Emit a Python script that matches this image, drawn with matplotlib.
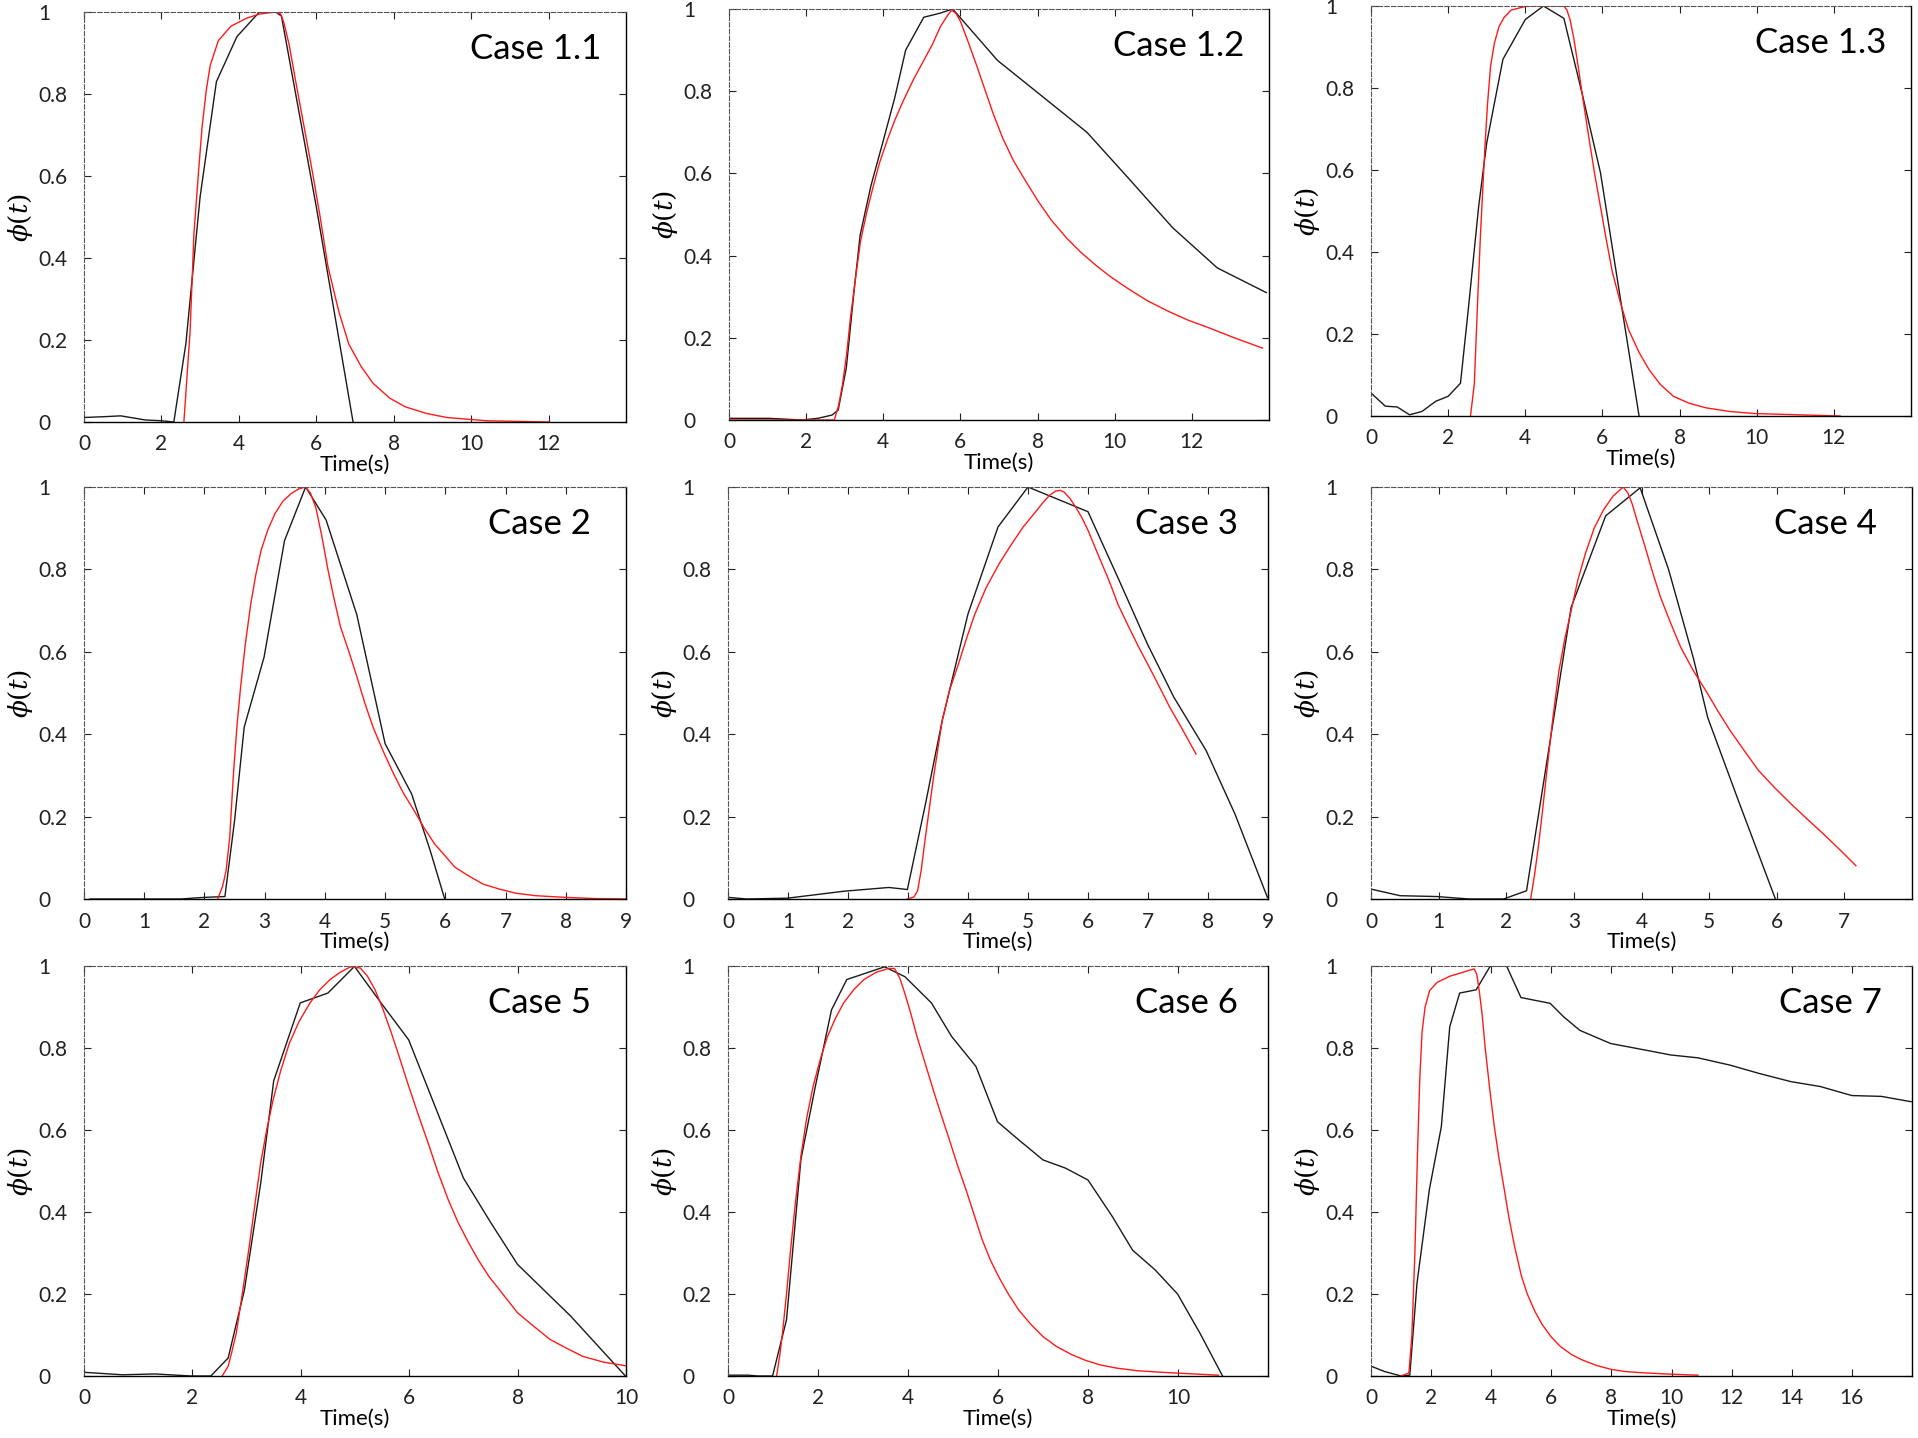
import matplotlib
matplotlib.use('Agg')
import matplotlib.pyplot as plt

plt.rcParams['font.family'] = ['Lato', 'DejaVu Sans']
plt.rcParams['mathtext.fontset'] = 'dejavuserif'

case_names = ['Case 1.1', 'Case 1.2', 'Case 1.3', 'Case 2', 'Case 3',
              'Case 4', 'Case 5', 'Case 6', 'Case 7']

c11_t_obs = [0, 0.53, 0.95, 1.58, 2.0, 2.32, 2.63, 3.0, 3.42, 3.95, 4.53, 4.95, 5.1, 6.0, 6.95]
c11_y_obs = [0.011, 0.013, 0.015, 0.005, 0.003, 0.0, 0.19, 0.55, 0.83, 0.94, 1.0, 1.0, 0.99, 0.525, 0.0]
c11_t_fit = [2.58, 2.74, 2.84, 2.95, 3.05, 3.16, 3.26, 3.47, 3.79, 4.2, 4.53, 4.95, 5.08, 5.16, 5.3, 5.47,
             5.9, 6.1, 6.3, 6.58, 6.84, 7.16, 7.47, 7.9, 8.3, 8.84, 9.37, 10.4, 12.0]
c11_y_fit = [0.0, 0.22, 0.46, 0.6, 0.72, 0.81, 0.87, 0.93, 0.965, 0.985, 0.995, 1.0, 0.995, 0.975, 0.92, 0.83,
             0.61, 0.5, 0.38, 0.27, 0.19, 0.135, 0.094, 0.058, 0.037, 0.021, 0.011, 0.003, 0.0]

c12_t_obs = [0, 1.04, 1.9, 2.3, 2.67, 2.83, 3.04, 3.26, 3.4, 3.68, 4.0, 4.3, 4.58, 5.05, 5.48, 5.8,
             6.96, 8.22, 9.28, 10.34, 11.5, 12.66, 13.93]
c12_y_obs = [0.004, 0.004, 0.0, 0.004, 0.012, 0.024, 0.126, 0.33, 0.45, 0.57, 0.68, 0.785, 0.9, 0.98, 0.99, 1.0,
             0.875, 0.78, 0.70, 0.59, 0.468, 0.37, 0.31]
c12_t_fit = [0, 2.73, 2.84, 2.94, 3.05, 3.15, 3.28, 3.41, 3.57, 3.73, 3.9, 4.1, 4.3, 4.52, 4.78, 5.05, 5.28,
             5.48, 5.65, 5.77, 5.88, 6.0, 6.2, 6.43, 6.85, 7.1, 7.38, 7.7, 8.01, 8.35, 8.75, 9.1, 9.49, 9.9,
             10.34, 10.85, 11.4, 11.9, 12.45, 13.1, 13.83]
c12_y_fit = [0.0, 0.0, 0.035, 0.085, 0.16, 0.25, 0.345, 0.435, 0.505, 0.565, 0.625, 0.68, 0.73, 0.777, 0.828,
             0.875, 0.915, 0.957, 0.982, 0.997, 0.99, 0.97, 0.92, 0.86, 0.745, 0.685, 0.63, 0.58, 0.533, 0.487,
             0.443, 0.41, 0.378, 0.348, 0.32, 0.29, 0.264, 0.243, 0.224, 0.2, 0.175]

c13_t_obs = [0, 0.37, 0.68, 1.0, 1.32, 1.68, 2.0, 2.32, 2.53, 2.79, 3.0, 3.42, 4.0, 4.47, 5.0, 5.47, 5.95, 6.47, 6.95]
c13_y_obs = [0.056, 0.024, 0.022, 0.003, 0.011, 0.036, 0.048, 0.08, 0.267, 0.51, 0.666, 0.87, 0.967, 1.0, 0.97,
             0.788, 0.593, 0.284, 0.0]
c13_t_fit = [2.58, 2.68, 2.76, 2.84, 2.95, 3.02, 3.1, 3.2, 3.32, 3.45, 3.63, 4.05, 5.0, 5.08, 5.16, 5.26, 5.37,
             5.5, 5.63, 5.8, 5.95, 6.1, 6.26, 6.47, 6.68, 6.95, 7.21, 7.5, 7.84, 8.25, 8.68, 9.3, 9.95, 12.16]
c13_y_fit = [0.0, 0.08, 0.27, 0.446, 0.65, 0.76, 0.853, 0.91, 0.95, 0.972, 0.99, 1.0, 1.0, 0.99, 0.967, 0.92,
             0.853, 0.77, 0.69, 0.59, 0.51, 0.43, 0.35, 0.275, 0.21, 0.155, 0.113, 0.077, 0.048, 0.031, 0.02,
             0.011, 0.006, 0.0]

c2_t_obs = [0.1, 1.0, 1.6, 2.0, 2.34, 2.5, 2.66, 2.99, 3.33, 3.68, 4.02, 4.53, 5.0, 5.44, 5.75, 5.99]
c2_y_obs = [0.0, 0.0, 0.0, 0.004, 0.006, 0.19, 0.417, 0.587, 0.87, 1.0, 0.92, 0.69, 0.377, 0.255, 0.117, 0.0]
c2_t_fit = [2.22, 2.3, 2.36, 2.42, 2.48, 2.54, 2.6, 2.68, 2.77, 2.85, 2.94, 3.05, 3.17, 3.3, 3.44, 3.56, 3.68,
            3.76, 3.85, 3.95, 4.05, 4.15, 4.26, 4.4, 4.53, 4.66, 4.8, 4.97, 5.14, 5.3, 5.48, 5.65, 5.82, 6.0,
            6.16, 6.4, 6.63, 6.9, 7.17, 7.5, 7.99, 8.5, 9.0]
c2_y_fit = [0.0, 0.03, 0.069, 0.15, 0.3, 0.42, 0.514, 0.62, 0.717, 0.785, 0.846, 0.895, 0.935, 0.965, 0.984,
            0.995, 1.0, 0.985, 0.95, 0.88, 0.8, 0.73, 0.66, 0.6, 0.54, 0.477, 0.417, 0.358, 0.304, 0.258, 0.215,
            0.172, 0.134, 0.104, 0.077, 0.055, 0.036, 0.024, 0.014, 0.008, 0.004, 0.001, 0.0]

c3_t_obs = [0, 0.31, 0.99, 1.94, 2.68, 2.99, 3.29, 3.57, 4.0, 4.5, 5.0, 6.0, 6.52, 6.99, 7.43, 7.97, 8.45, 8.99]
c3_y_obs = [0.004, 0.0, 0.002, 0.019, 0.028, 0.023, 0.23, 0.433, 0.692, 0.903, 1.0, 0.94, 0.773, 0.619, 0.49,
            0.36, 0.206, 0.004]
c3_t_fit = [2.99, 3.1, 3.16, 3.22, 3.29, 3.43, 3.57, 3.7, 3.84, 3.97, 4.11, 4.3, 4.52, 4.72, 4.92, 5.1, 5.26,
            5.36, 5.46, 5.53, 5.6, 5.7, 5.8, 5.9, 6.0, 6.17, 6.35, 6.5, 6.68, 6.85, 7.02, 7.19, 7.36, 7.58, 7.8]
c3_y_fit = [0.0, 0.005, 0.02, 0.07, 0.15, 0.3, 0.433, 0.51, 0.57, 0.63, 0.69, 0.755, 0.814, 0.86, 0.903, 0.935,
            0.964, 0.98, 0.99, 0.992, 0.988, 0.972, 0.95, 0.925, 0.895, 0.835, 0.773, 0.715, 0.66, 0.61, 0.563,
            0.515, 0.466, 0.41, 0.352]

c4_t_obs = [0, 0.43, 0.97, 1.45, 1.96, 2.3, 2.96, 3.47, 3.98, 4.4, 4.77, 4.98, 5.43, 5.98]
c4_y_obs = [0.024, 0.008, 0.006, 0.0, 0.0, 0.02, 0.708, 0.93, 0.998, 0.8, 0.583, 0.44, 0.24, 0.0]
c4_t_fit = [2.36, 2.42, 2.48, 2.54, 2.6, 2.69, 2.78, 2.87, 2.96, 3.06, 3.17, 3.3, 3.44, 3.58, 3.73, 3.8, 3.86,
            3.95, 4.04, 4.16, 4.28, 4.43, 4.58, 4.76, 4.95, 5.13, 5.31, 5.52, 5.73, 5.97, 6.21, 6.45, 6.69, 6.93,
            7.17]
c4_y_fit = [0.0, 0.06, 0.134, 0.22, 0.31, 0.44, 0.555, 0.635, 0.7, 0.775, 0.838, 0.9, 0.945, 0.978, 1.0, 0.985,
            0.96, 0.91, 0.862, 0.795, 0.733, 0.67, 0.611, 0.556, 0.506, 0.456, 0.409, 0.36, 0.312, 0.27, 0.231,
            0.194, 0.158, 0.12, 0.081]

c5_t_obs = [0, 0.71, 1.31, 1.98, 2.34, 2.66, 2.96, 3.26, 3.5, 3.99, 4.5, 4.99, 5.48, 5.99, 6.5, 7.0, 7.51,
            8.0, 8.98, 9.99]
c5_y_obs = [0.009, 0.003, 0.005, 0.0, 0.0, 0.044, 0.21, 0.47, 0.72, 0.91, 0.934, 0.999, 0.91, 0.82, 0.65,
            0.483, 0.373, 0.272, 0.146, 0.0]
c5_t_fit = [2.55, 2.66, 2.73, 2.81, 2.92, 3.04, 3.15, 3.26, 3.37, 3.49, 3.63, 3.79, 3.97, 4.17, 4.35, 4.54,
            4.73, 4.92, 5.1, 5.23, 5.37, 5.52, 5.67, 5.82, 5.97, 6.16, 6.35, 6.53, 6.72, 6.9, 7.1, 7.28, 7.47,
            7.75, 8.0, 8.3, 8.6, 8.9, 9.2, 9.58, 9.99]
c5_y_fit = [0.0, 0.024, 0.06, 0.105, 0.2, 0.308, 0.415, 0.52, 0.6, 0.674, 0.745, 0.812, 0.865, 0.91, 0.942,
            0.967, 0.985, 0.998, 0.995, 0.975, 0.942, 0.893, 0.837, 0.777, 0.715, 0.64, 0.568, 0.497, 0.43, 0.375,
            0.324, 0.282, 0.243, 0.196, 0.154, 0.121, 0.089, 0.068, 0.048, 0.034, 0.025]

c6_t_obs = [0, 0.44, 0.67, 0.99, 1.3, 1.62, 1.94, 2.3, 2.64, 3.48, 3.93, 4.52, 4.97, 5.51, 5.99, 6.46, 7.0,
            7.5, 8.0, 8.54, 8.99, 9.49, 9.99, 10.49, 10.99]
c6_y_obs = [0.002, 0.002, 0.0, 0.0, 0.137, 0.528, 0.706, 0.893, 0.967, 0.998, 0.974, 0.91, 0.828, 0.755, 0.62,
            0.576, 0.527, 0.507, 0.478, 0.389, 0.307, 0.259, 0.2, 0.104, 0.0]
c6_t_fit = [1.08, 1.15, 1.21, 1.3, 1.39, 1.5, 1.62, 1.75, 1.89, 2.05, 2.21, 2.39, 2.57, 2.8, 3.02, 3.3, 3.57,
            3.7, 3.82, 3.93, 4.06, 4.2, 4.38, 4.56, 4.74, 4.92, 5.1, 5.29, 5.47, 5.65, 5.83, 6.01, 6.23, 6.46,
            6.73, 7.0, 7.3, 7.64, 7.95, 8.27, 8.65, 9.09, 9.5, 9.99, 10.9]
c6_y_fit = [0.0, 0.05, 0.104, 0.2, 0.307, 0.425, 0.536, 0.63, 0.706, 0.772, 0.828, 0.873, 0.91, 0.943, 0.967,
            0.985, 0.994, 0.994, 0.97, 0.933, 0.885, 0.828, 0.763, 0.698, 0.636, 0.576, 0.514, 0.454, 0.393,
            0.332, 0.283, 0.243, 0.2, 0.161, 0.126, 0.096, 0.072, 0.052, 0.038, 0.027, 0.019, 0.013, 0.01,
            0.007, 0.002]

c7_t_obs = [0, 0.45, 1.0, 1.29, 1.53, 1.94, 2.34, 2.62, 2.95, 3.5, 3.97, 4.51, 4.99, 5.96, 6.41, 6.95, 7.97,
            9.12, 9.97, 10.88, 11.96, 12.91, 13.97, 14.95, 16.0, 16.98, 17.97]
c7_y_obs = [0.024, 0.011, 0.0, 0.002, 0.226, 0.454, 0.608, 0.852, 0.934, 0.942, 1.0, 1.0, 0.923, 0.909, 0.876,
            0.843, 0.811, 0.795, 0.783, 0.776, 0.758, 0.738, 0.718, 0.706, 0.684, 0.682, 0.669]
c7_t_fit = [0.99, 1.26, 1.36, 1.46, 1.55, 1.62, 1.7, 1.8, 1.95, 2.2, 2.62, 3.16, 3.43, 3.52, 3.6, 3.7, 3.8,
            3.95, 4.1, 4.25, 4.4, 4.58, 4.78, 5.0, 5.2, 5.45, 5.7, 6.0, 6.3, 6.68, 7.0, 7.49, 8.0, 8.44, 9.0,
            9.8, 10.88]
c7_y_fit = [0.0, 0.007, 0.1, 0.3, 0.55, 0.72, 0.84, 0.9, 0.94, 0.96, 0.975, 0.987, 0.993, 0.98, 0.94, 0.88,
            0.8, 0.7, 0.61, 0.535, 0.47, 0.39, 0.315, 0.245, 0.2, 0.158, 0.125, 0.095, 0.072, 0.052, 0.04,
            0.026, 0.016, 0.011, 0.008, 0.005, 0.002]

obs_t = [c11_t_obs, c12_t_obs, c13_t_obs, c2_t_obs, c3_t_obs, c4_t_obs, c5_t_obs, c6_t_obs, c7_t_obs]
obs_y = [c11_y_obs, c12_y_obs, c13_y_obs, c2_y_obs, c3_y_obs, c4_y_obs, c5_y_obs, c6_y_obs, c7_y_obs]
fit_t = [c11_t_fit, c12_t_fit, c13_t_fit, c2_t_fit, c3_t_fit, c4_t_fit, c5_t_fit, c6_t_fit, c7_t_fit]
fit_y = [c11_y_fit, c12_y_fit, c13_y_fit, c2_y_fit, c3_y_fit, c4_y_fit, c5_y_fit, c6_y_fit, c7_y_fit]

x_limits = [(0, 14), (0, 14), (0, 14), (0, 9), (0, 9), (0, 8), (0, 10), (0, 12), (0, 18)]
x_ticks = [range(0, 13, 2), range(0, 13, 2), range(0, 13, 2), range(0, 10), range(0, 10),
           range(0, 8), range(0, 11, 2), range(0, 11, 2), range(0, 17, 2)]
y_ticks = [0, 0.2, 0.4, 0.6, 0.8, 1.0]
y_ticklabels = ['0', '0.2', '0.4', '0.6', '0.8', '1']

# ---- layout (pixels of the 1918x1438 canvas) ----
W, H = 1918, 1438
boxes = [(84, 12, 542, 410), (729, 9, 540, 411), (1371, 6, 540, 410),
         (84, 487, 542, 412), (728, 487, 540, 412), (1371, 487, 541, 412),
         (84, 966, 542, 410), (728, 966, 540, 410), (1371, 966, 541, 410)]
label_x = [0.955, 0.955, 0.955, 0.935, 0.945, 0.935, 0.935, 0.945, 0.945]

fig = plt.figure(figsize=(W / 100, H / 100), dpi=100)

for i, (l, t, w, h) in enumerate(boxes):
    ax = fig.add_axes([l / W, 1 - (t + h) / H, w / W, h / H])
    ax.plot(obs_t[i], obs_y[i], color='#1a1a1a', lw=1.0)
    ax.plot(fit_t[i], fit_y[i], color='#ff1a1a', lw=1.0)
    ax.set_xlim(*x_limits[i])
    ax.set_ylim(0, 1)
    ax.set_xticks(list(x_ticks[i]))
    ax.set_yticks(y_ticks)
    ax.set_yticklabels(y_ticklabels)
    ax.tick_params(direction='in', top=True, right=True, length=5, width=0.8,
                   labelsize=15, colors='#222222')
    ax.tick_params(axis='x', pad=9)
    ax.tick_params(axis='y', pad=33)
    for lab in ax.get_yticklabels():
        lab.set_horizontalalignment('left')
    for side in ['top', 'left']:
        ax.spines[side].set_linestyle((0, (4, 2)))
        ax.spines[side].set_color('#555555')
    for side in ['bottom', 'right']:
        ax.spines[side].set_linewidth(1.0)
    ax.set_xlabel('Time(s)', fontsize=16, labelpad=0)
    ax.set_ylabel(r'$\phi(t)$', fontsize=19, labelpad=2)
    ax.text(label_x[i], 0.91, case_names[i], transform=ax.transAxes,
            ha='right', va='center', fontsize=25)

fig.savefig('out.png', dpi=100)
